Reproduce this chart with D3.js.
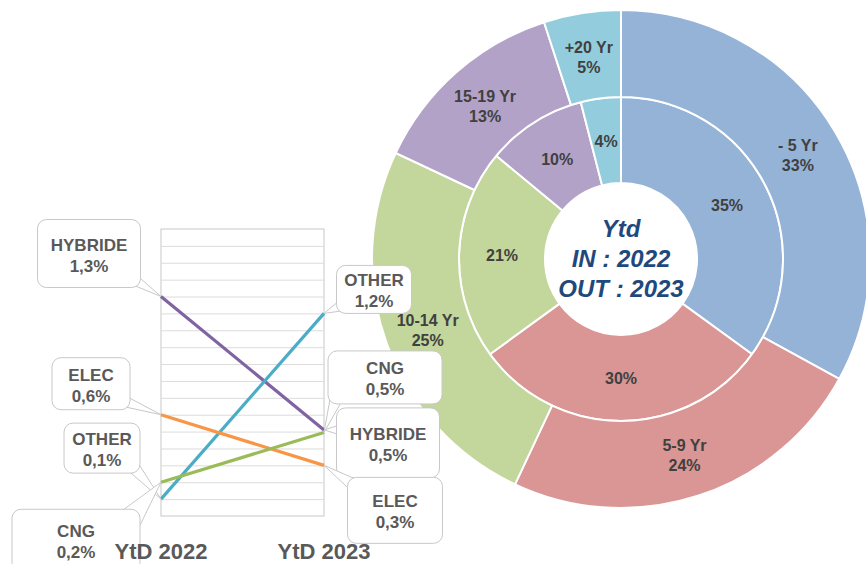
<!DOCTYPE html>
<html><head><meta charset="utf-8">
<script src="https://cdn.jsdelivr.net/npm/d3@7"></script>
<style>body{margin:0;background:#fff}svg{display:block}</style>
</head><body><svg id="c" width="866" height="564"></svg>
<script>
// ---- data ----
const ageGroups = ["- 5 Yr", "5-9 Yr", "10-14 Yr", "15-19 Yr", "+20 Yr"];
const out2023 = [33, 24, 25, 13, 5];   // outer ring (OUT : 2023)
const in2022 = [35, 30, 21, 10, 4];    // inner ring (IN : 2022)
const centerLines = ["Ytd", "IN : 2022", "OUT : 2023"];

const fuels = ["HYBRIDE", "OTHER", "ELEC", "CNG"];
const ytd2022 = [1.3, 0.1, 0.6, 0.2];
const ytd2023 = [0.51, 1.2, 0.3, 0.495];
const periods = ["YtD 2022", "YtD 2023"];

// ---- styles / layout ----
const FONT = "'Liberation Sans', Arial, Helvetica, sans-serif";
const ageColors = ["#95B3D7", "#D99694", "#C3D69B", "#B2A2C7", "#93CDDD"];
const fuelColors = ["#8064A2", "#4BACC6", "#F79646", "#9BBB59"];
// callout box placement relative to its point: [dx, dy, w, h, wedge half width]
const calloutLeft = [[-72, -43, 103, 68, 6], [-59, -51, 76, 50, 7], [-70, -31, 78, 52, 6], [-85, 58, 128, 62, 12]];
const calloutRight = [[64, 13, 103, 70, 7], [50, -24, 75, 48, 7], [71, 45, 95, 66, 7], [61, -55, 114, 53, 7]];

const svg = d3.select("#c");
const fmt = v => d3.format(".1f")(v).replace(".", ",") + "%";

// ---- donut ----
const cx = 621, cy = 259;
const pie = d3.pie().sort(null).value(d => d);
const color = d3.scaleOrdinal().domain(ageGroups).range(ageColors);
const rings = [
  { values: in2022, r0: 76, r1: 162, outer: false },
  { values: out2023, r0: 162, r1: 249, outer: true }
];
const donut = svg.append("g").attr("transform", `translate(${cx},${cy})`);
rings.forEach(ring => {
  const arc = d3.arc().innerRadius(ring.r0).outerRadius(ring.r1);
  const arcs = pie(ring.values);
  donut.append("g").selectAll("path").data(arcs).join("path")
    .attr("d", arc)
    .attr("fill", (d, i) => color(ageGroups[i]))
    .attr("stroke", "#fff").attr("stroke-width", 2);
  const lab = donut.append("g").selectAll("text").data(arcs).join("text")
    .attr("font-family", FONT).attr("font-weight", "bold").attr("font-size", 16)
    .attr("fill", "#404040").attr("text-anchor", "middle")
    .attr("transform", d => { const c = arc.centroid(d); return `translate(${c[0]},${c[1]})`; });
  if (ring.outer) {
    lab.append("tspan").attr("x", 0).attr("y", -3).text((d, i) => ageGroups[i]);
    lab.append("tspan").attr("x", 0).attr("y", 17).text(d => d.data + "%");
  } else {
    lab.attr("dy", 6).text(d => d.data + "%");
  }
});
donut.append("g").selectAll("text").data(centerLines).join("text")
  .attr("font-family", FONT).attr("font-weight", "bold").attr("font-style", "italic")
  .attr("font-size", 24).attr("fill", "#1F497D").attr("text-anchor", "middle")
  .attr("x", 0).attr("y", (d, i) => -22 + i * 30).text(d => d);

// ---- slope chart ----
const x = d3.scalePoint().domain(periods).range([161, 324]);
const y = d3.scaleLinear().domain([0, 1.7]).range([516, 229]);
const plot = svg.append("g");
plot.append("rect").attr("x", 161).attr("y", 229).attr("width", 163).attr("height", 287)
  .attr("fill", "#fff").attr("stroke", "#C8C8C8").attr("stroke-width", 1);
const grid = plot.append("g").attr("transform", "translate(161,0)")
  .call(d3.axisLeft(y).tickValues(d3.range(1, 17).map(i => i / 10)).tickSize(-163).tickFormat(""));
grid.select(".domain").remove();
grid.selectAll("line").attr("stroke", "#DCDCDC").attr("stroke-width", 1);

const series = fuels.map((f, i) => ({ name: f, vals: [ytd2022[i], ytd2023[i]], color: fuelColors[i] }));
const line = d3.line().x((d, j) => x(periods[j])).y(d => y(d));
plot.append("g").selectAll("path").data(series).join("path")
  .attr("d", d => line(d.vals)).attr("fill", "none")
  .attr("stroke", d => d.color).attr("stroke-width", 3.2);

// ---- callouts ----
function callout(g, px, py, lay, name, val) {
  const [dx, dy, w, h, hw] = lay;
  const bx = px + dx - w / 2, by = py + dy - h / 2;
  const ax = Math.max(bx + 10, Math.min(px, bx + w - 10));
  const ay = Math.max(by + 10, Math.min(py, by + h - 10));
  let vx = px - ax, vy = py - ay; const L = Math.hypot(vx, vy) || 1;
  vx /= L; vy /= L;
  const nx = -vy * hw, ny = vx * hw;
  g.append("path")
    .attr("d", `M${ax + nx},${ay + ny}L${px},${py}L${ax - nx},${ay - ny}Z`)
    .attr("fill", "#fff").attr("stroke", "#C8C8C8").attr("stroke-width", 1);
  g.append("rect").attr("x", bx).attr("y", by).attr("width", w).attr("height", h)
    .attr("rx", 9).attr("fill", "#fff").attr("stroke", "#C8C8C8").attr("stroke-width", 1);
  const t = g.append("text").attr("font-family", FONT).attr("font-weight", "bold")
    .attr("font-size", 17).attr("fill", "#595959").attr("text-anchor", "middle");
  t.append("tspan").attr("x", bx + w / 2).attr("y", by + h / 2 - 3).text(name);
  t.append("tspan").attr("x", bx + w / 2).attr("y", by + h / 2 + 18).text(fmt(val));
}
const cg = svg.append("g");
series.forEach((s, i) => {
  callout(cg, x(periods[0]), y(s.vals[0]), calloutLeft[i], s.name, s.vals[0]);
});
series.forEach((s, i) => {
  callout(cg, x(periods[1]), y(s.vals[1]), calloutRight[i], s.name, s.vals[1]);
});

// ---- category labels (on top) ----
svg.append("g").selectAll("text").data(periods).join("text")
  .attr("font-family", FONT).attr("font-weight", "bold").attr("font-size", 22)
  .attr("fill", "#595959").attr("text-anchor", "middle")
  .attr("x", d => x(d)).attr("y", 559).text(d => d);
</script>
</body></html>
